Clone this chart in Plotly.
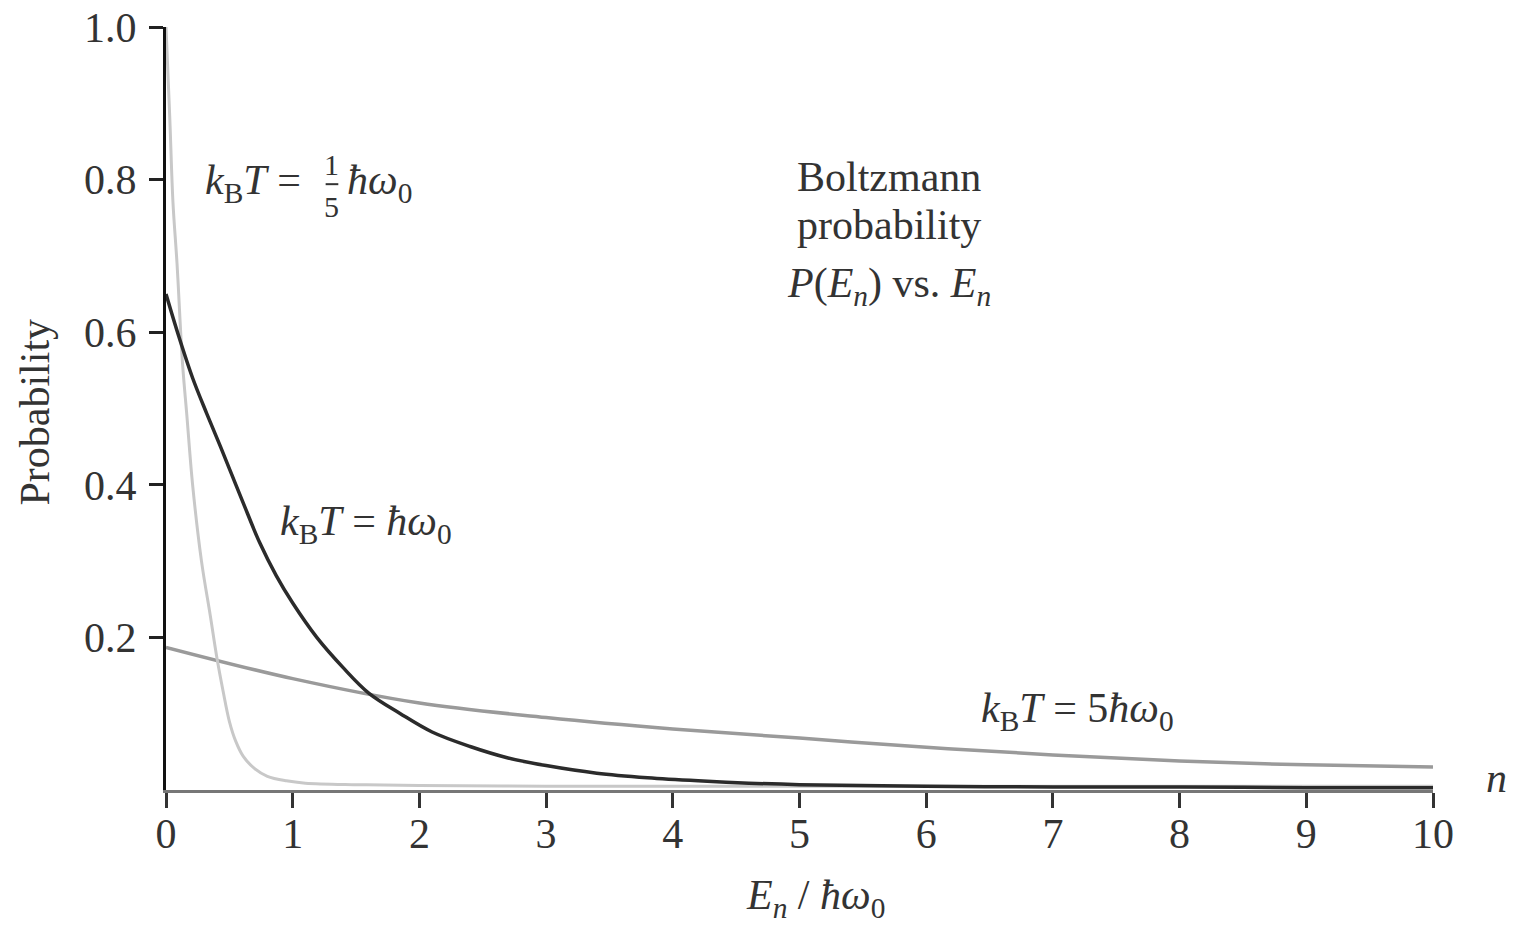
import plotly.graph_objects as go

# kB T = hbar*omega0 (dark curve)
x_mid = [0, 0.1, 0.21, 0.32, 0.43, 0.52, 0.61, 0.74, 0.87, 1.0, 1.19, 1.4, 1.6, 1.85, 2.1, 2.4,
         2.7, 3.0, 3.4, 3.8, 4.2, 4.6, 5.0, 6, 7, 8, 9, 10]
p_mid = [0.65, 0.595, 0.54, 0.494, 0.45, 0.413, 0.376, 0.324, 0.281, 0.245, 0.20, 0.16, 0.127,
         0.10, 0.076, 0.057, 0.042, 0.032, 0.022, 0.016, 0.012, 0.009, 0.007, 0.005, 0.004,
         0.004, 0.003, 0.003]

# kB T = (1/5) hbar*omega0 (light curve)
x_low = [0, 0.03, 0.055, 0.087, 0.13, 0.165, 0.21, 0.28, 0.35, 0.4, 0.45, 0.5, 0.55,
         0.61, 0.7, 0.8, 0.95, 1.1, 1.5, 2, 3, 4, 5, 6, 7, 8, 9, 10]
p_low = [1.0, 0.88, 0.77, 0.69, 0.56, 0.49, 0.40, 0.30, 0.228, 0.175, 0.13, 0.09, 0.064,
         0.044, 0.028, 0.018, 0.012, 0.009, 0.007, 0.006, 0.005, 0.005, 0.005, 0.005, 0.005,
         0.005, 0.005, 0.005]

# kB T = 5 hbar*omega0 (grey curve)
x_high = [0, 1, 2, 3, 4, 5, 6, 7, 8, 9, 10]
p_high = [0.187, 0.146, 0.114, 0.095, 0.080, 0.068, 0.056, 0.046, 0.038, 0.033, 0.030]

x_ticks = [0, 1, 2, 3, 4, 5, 6, 7, 8, 9, 10]
y_ticks = [0.2, 0.4, 0.6, 0.8, 1.0]
y_tick_text = ["0.2", "0.4", "0.6", "0.8", "1.0"]

FONT = "Liberation Serif"
FS = 42
TXT = "#333333"

fig = go.Figure()
fig.add_trace(go.Scatter(x=x_high, y=p_high, mode="lines", line=dict(color="#9a9a9a", width=3.5, shape="spline"), showlegend=False))
fig.add_trace(go.Scatter(x=x_low, y=p_low, mode="lines", line=dict(color="#c8c8c8", width=3, shape="spline"), showlegend=False))
fig.add_trace(go.Scatter(x=x_mid, y=p_mid, mode="lines", line=dict(color="#2b2b2b", width=3.5, shape="spline"), showlegend=False))

fig.update_layout(
    width=1514, height=930,
    margin=dict(l=166, r=81, t=27, b=140, autoexpand=False),
    paper_bgcolor="white", plot_bgcolor="white",
    font=dict(family=FONT, size=FS, color=TXT),
    showlegend=False,
)
fig.update_xaxes(range=[0, 10], tickvals=x_ticks, showgrid=False, zeroline=False, automargin=False,
                 showline=True, linecolor="#777777", linewidth=3,
                 ticks="outside", ticklen=15, tickwidth=2.5, tickcolor="#333333",
                 ticklabelstandoff=-10, ticklabeloverflow="allow",
                 tickfont=dict(family=FONT, size=FS, color=TXT))
fig.update_yaxes(range=[0, 1.0], tickvals=y_ticks, ticktext=y_tick_text, showgrid=False, zeroline=False,
                 automargin=False,
                 showline=True, linecolor="#111111", linewidth=3,
                 ticks="outside", ticklen=14, tickwidth=2.5, tickcolor="#222222",
                 ticklabelstandoff=4, ticklabeloverflow="allow",
                 tickfont=dict(family=FONT, size=FS, color=TXT))

ann = []
def A(text, x, y, xref="x", yref="y", xanchor="left", yanchor="middle", size=FS, angle=0):
    ann.append(dict(text=text, x=x, y=y, xref=xref, yref=yref, xanchor=xanchor, yanchor=yanchor,
                    showarrow=False, textangle=angle, font=dict(family=FONT, size=size, color=TXT)))

# axis titles
A("Probability", -0.1034, 0.496, xref="paper", yref="paper", xanchor="center", angle=-90)
A("<i>E<sub>n</sub></i> / <i>ħω</i><sub>0</sub>", 0.513, -0.142, xref="paper", yref="paper", xanchor="center")
A("<i>n</i>", 1.0505, 0.016, xref="paper", yref="paper", xanchor="center")

# curve labels
A("<i>k</i><sub>B</sub><i>T</i>&nbsp;=", 0.29, 0.796)
A("1", 1.31, 0.820, xanchor="center", size=30)
A("5", 1.31, 0.765, xanchor="center", size=30)
A("<i>ħω</i><sub>0</sub>", 1.41, 0.796)
A("<i>k</i><sub>B</sub><i>T</i> = <i>ħω</i><sub>0</sub>", 0.88, 0.348)
A("<i>k</i><sub>B</sub><i>T</i> = 5<i>ħω</i><sub>0</sub>", 6.42, 0.103)

# title block
A("Boltzmann", 5.71, 0.804, xanchor="center")
A("probability", 5.71, 0.741, xanchor="center")
A("<i>P</i>(<i>E<sub>n</sub></i>) vs. <i>E<sub>n</sub></i>", 5.71, 0.66, xanchor="center")

fig.update_layout(annotations=ann)
fig.add_shape(type="line", x0=1.26, x1=1.36, y0=0.794, y1=0.794, xref="x", yref="y",
              line=dict(color=TXT, width=2))

fig.write_html("out.html", config={"displayModeBar": False},
               post_script="document.body.style.margin='0';")
